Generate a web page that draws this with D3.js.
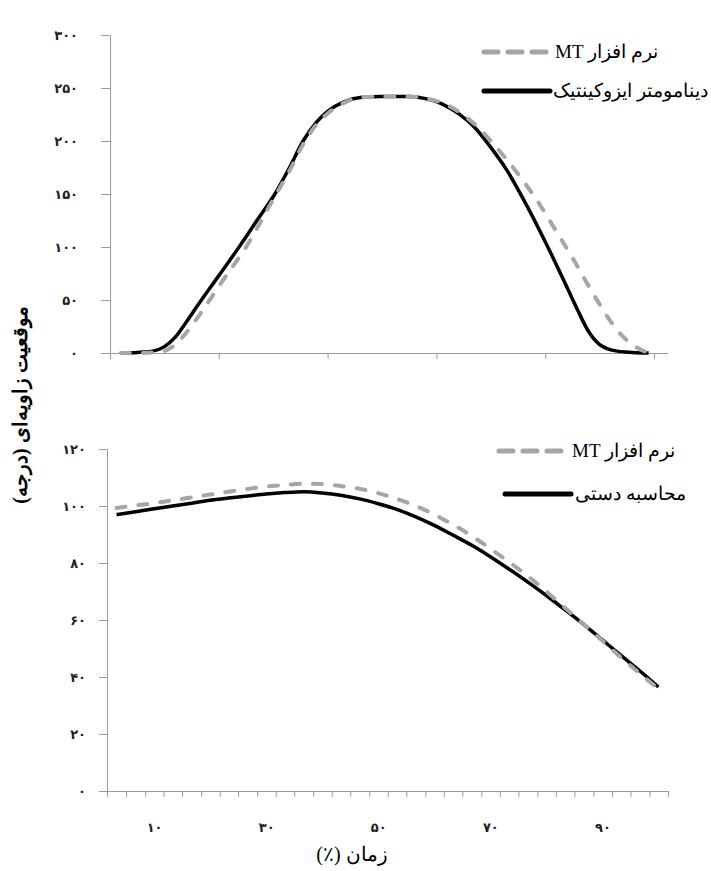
<!DOCTYPE html>
<html>
<head>
<meta charset="utf-8">
<script src="https://cdn.jsdelivr.net/npm/d3@7"></script>
<style>
  body { margin: 0; background: #fff; }
  svg { display: block; }
  .tick text { font-family: "DejaVu Sans", sans-serif; }
</style>
</head>
<body>
<div id="chart"></div>
<script>
const width = 711, height = 871;

// top panel: angular position (deg) vs time (%)
const topXIso = [2, 5, 8, 10, 12, 14, 16, 20, 24, 27, 30.3, 33, 35.5, 38, 40, 43, 46, 50, 55, 58, 61, 64, 67, 70, 73, 76, 80, 84, 86, 88, 90, 93, 96, 99];
const topIso  = [0, 0.5, 2, 6, 15, 29, 44, 73, 102, 125, 150, 175, 200, 218, 228, 237, 241, 242, 242, 240, 235, 226, 213, 194, 172, 145, 105, 62, 40, 20, 8, 2, 0.5, 0];
const topXMT  = [2, 5, 8, 10, 12, 14, 17, 20, 25, 30, 33, 35.5, 38, 40, 43, 46, 50, 55, 58, 61, 64, 67, 70, 73, 76, 79, 82, 85, 88, 90, 92, 94, 96, 98, 100];
const topMT   = [0, 0, 0.5, 2, 8, 19, 40, 63, 100, 145, 172, 197, 216, 226, 236, 241, 242, 242, 240, 236, 228, 216, 200, 182, 162, 140, 115, 90, 63, 46, 30, 17, 8, 2, 0];
const topYTicks = [0, 50, 100, 150, 200, 250, 300];
const topXTicks = [0, 20, 40, 60, 80, 100];

// bottom panel: 30 time categories
const botX = [3.3, 6.7, 10, 13.3, 16.7, 20, 23.3, 26.7, 30, 33.3, 36.7, 40, 43.3, 46.7, 50,
              53.3, 56.7, 60, 63.3, 66.7, 70, 73.3, 76.7, 80, 83.3, 86.7, 90, 93.3, 96.7, 100];
const botManual = [97, 98, 99, 100, 101, 102, 102.8, 103.5, 104.2, 104.7, 105, 104.6, 103.8, 102.5, 100.8,
                   98.8, 96.2, 93.2, 89.8, 86.2, 82.2, 77.9, 73.3, 68.6, 63.6, 58.4, 53, 47.6, 42.1, 36.5];
const botMT = [99.3, 100.2, 101, 102, 103, 104, 105, 106, 106.8, 107.4, 107.8, 107.7, 107, 106, 104.5,
               102.5, 100, 97, 93.5, 89.5, 85, 80.4, 75.4, 70, 64.3, 58.5, 52.7, 46.9, 41.2, 35.8];
const botYTicks = [0, 20, 40, 60, 80, 100, 120];
const botXLabels = [10, 30, 50, 70, 90];

const labelsTop = ["نرم افزار MT", "دینامومتر ایزوکینتیک"];
const labelsBot = ["نرم افزار MT", "محاسبه دستی"];
const yTitle = "موقعیت زاویه‌ای (درجه)";
const xTitle = "زمان (٪)";

const fa = n => String(n).replace(/\d/g, d => "۰۱۲۳۴۵۶۷۸۹"[d]);

const grey = "#a6a6a6", black = "#000", axisCol = "#9a9a9a";
const textFont = "'Liberation Serif', 'DejaVu Serif', serif";

const svg = d3.select("#chart").append("svg")
    .attr("width", width).attr("height", height)
    .attr("viewBox", `0 0 ${width} ${height}`);

const styleAxis = g => {
    g.selectAll("path, line").attr("stroke", axisCol).attr("stroke-width", 1);
    g.selectAll("text").attr("fill", "#222").attr("font-size", 13).attr("font-weight", "bold");
};

// ---------- top panel ----------
const xTop = d3.scaleLinear().domain([-1.29, 102.57]).range([103, 668]);
const yTop = d3.scaleLinear().domain([0, 300]).range([353, 35]);

svg.append("g")
    .attr("transform", `translate(0, ${yTop(0)})`)
    .call(d3.axisBottom(xTop).tickValues(topXTicks).tickFormat("").tickSize(6).tickSizeOuter(0))
    .call(styleAxis);

svg.append("g")
    .attr("transform", `translate(${xTop(0)}, 0)`)
    .call(d3.axisLeft(yTop).tickValues(topYTicks).tickFormat(fa).tickSize(9).tickPadding(23).tickSizeOuter(0))
    .call(styleAxis);

const lineTop = d3.line().curve(d3.curveMonotoneX)
    .x(d => xTop(d[0])).y(d => yTop(d[1]));

svg.append("path")
    .datum(d3.zip(topXIso, topIso))
    .attr("fill", "none").attr("stroke", black).attr("stroke-width", 3.5)
    .attr("d", lineTop);

svg.append("path")
    .datum(d3.zip(topXMT, topMT))
    .attr("fill", "none").attr("stroke", grey).attr("stroke-width", 4)
    .attr("stroke-linecap", "round").attr("stroke-dasharray", "9,13")
    .attr("d", lineTop);

// ---------- bottom panel ----------
const step = botX[1] - botX[0];
const xBot = d3.scaleLinear().domain([botX[0] - step / 2, botX[botX.length - 1] + step / 2]).range([107, 668]);
const yBot = d3.scaleLinear().domain([0, 120]).range([791, 449]);
const boundaries = [botX[0] - step / 2].concat(botX.map(v => v + step / 2));

svg.append("g")
    .attr("transform", `translate(0, ${yBot(0)})`)
    .call(d3.axisBottom(xBot).tickValues(boundaries).tickFormat("").tickSize(6).tickSizeOuter(0))
    .call(styleAxis);

svg.append("g")
    .attr("transform", `translate(0, ${yBot(0)})`)
    .call(d3.axisBottom(xBot).tickValues(botXLabels).tickFormat(fa).tickSize(0).tickPadding(32))
    .call(g => g.select(".domain").remove())
    .call(styleAxis);

svg.append("g")
    .attr("transform", `translate(${xBot.range()[0]}, 0)`)
    .call(d3.axisLeft(yBot).tickValues(botYTicks).tickFormat(fa).tickSize(8).tickPadding(13).tickSizeOuter(0))
    .call(styleAxis);

const lineBot = d3.line().curve(d3.curveMonotoneX)
    .x((d, i) => xBot(botX[i])).y(d => yBot(d));

svg.append("path")
    .datum(botManual)
    .attr("fill", "none").attr("stroke", black).attr("stroke-width", 3.5)
    .attr("d", lineBot);

svg.append("path")
    .datum(botMT)
    .attr("fill", "none").attr("stroke", grey).attr("stroke-width", 4)
    .attr("stroke-linecap", "round").attr("stroke-dasharray", "9,13")
    .attr("d", lineBot);

// ---------- legends ----------
const legend = (items) => {
    items.forEach(it => {
        svg.append("line")
            .attr("x1", it.x1).attr("x2", it.x2).attr("y1", it.y).attr("y2", it.y)
            .attr("stroke", it.dashed ? grey : black).attr("stroke-width", 5)
            .attr("stroke-linecap", "round")
            .attr("stroke-dasharray", it.dashed ? "14,10" : null);
        svg.append("text")
            .attr("x", it.tx).attr("y", it.y + 6)
            .attr("direction", "rtl").attr("text-anchor", "end")
            .attr("font-family", textFont).attr("font-size", 19)
            .text(it.label);
    });
};

legend([
    { label: labelsTop[0], dashed: true,  x1: 484, x2: 550, y: 52, tx: 555 },
    { label: labelsTop[1], dashed: false, x1: 484, x2: 550, y: 91, tx: 553 }
]);
legend([
    { label: labelsBot[0], dashed: true,  x1: 499, x2: 568, y: 451, tx: 572 },
    { label: labelsBot[1], dashed: false, x1: 505, x2: 571, y: 494, tx: 575 }
]);

// ---------- axis titles ----------
svg.append("text")
    .attr("transform", "translate(27, 405) rotate(-90)")
    .attr("direction", "rtl").attr("text-anchor", "middle")
    .attr("font-family", textFont).attr("font-size", 20).attr("font-weight", "bold")
    .text(yTitle);

svg.append("text")
    .attr("x", 352).attr("y", 861)
    .attr("direction", "rtl").attr("text-anchor", "middle")
    .attr("font-family", textFont).attr("font-size", 20)
    .text(xTitle);
</script>
</body>
</html>
